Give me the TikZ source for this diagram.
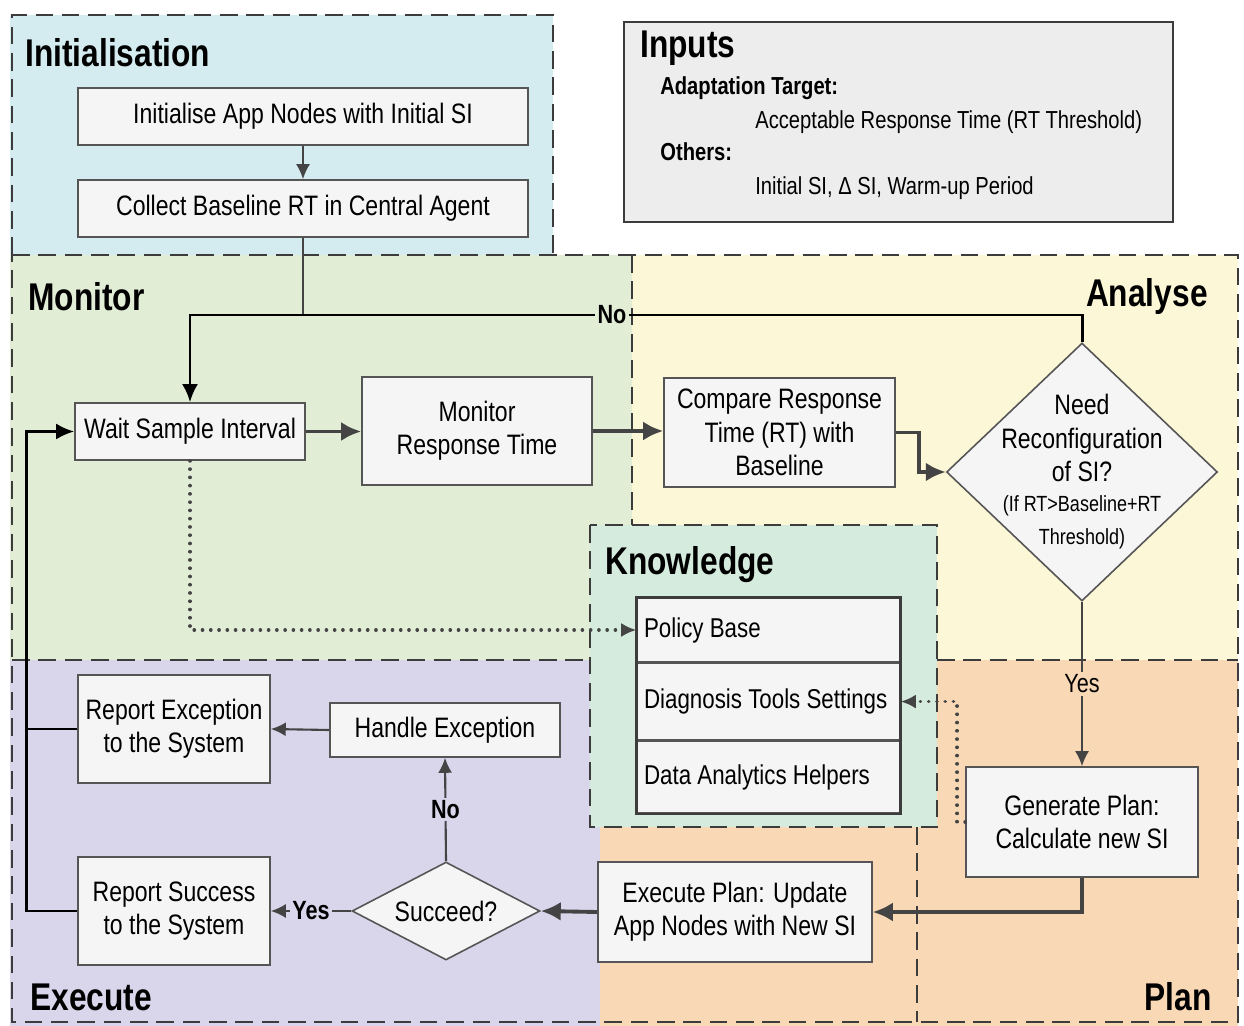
\documentclass[tikz,border=0pt]{standalone}
\usepackage{fontspec}
\setmainfont{Liberation Sans}[FakeStretch=0.82]
\usetikzlibrary{positioning,arrows.meta,calc,shapes.geometric}

\definecolor{initblue}{HTML}{D4EBF0}
\definecolor{mongreen}{HTML}{E1EDD5}
\definecolor{anayellow}{HTML}{FCF7D6}
\definecolor{knowgreen}{HTML}{D5EBDD}
\definecolor{exepurple}{HTML}{D9D6EB}
\definecolor{planorange}{HTML}{F9D8B6}
\definecolor{inputgray}{HTML}{EDEDED}
\definecolor{boxfill}{HTML}{F5F5F5}
\definecolor{boxline}{HTML}{555555}
\definecolor{dashline}{HTML}{3C3C3C}
\definecolor{arrowgray}{HTML}{444444}

\begin{document}
\begin{tikzpicture}[
    x=0.02cm, y=-0.02cm,
    box/.style={draw=boxline, line width=0.9pt, fill=boxfill, align=center, inner sep=2pt, font=\fontsize{16}{19}\selectfont},
    kbox/.style={box, align=flush left, text width=4.98cm, inner xsep=0.14cm, minimum width=5.26cm, font=\fontsize{15.5}{18}\selectfont},
    decision/.style={diamond, draw=boxline, line width=0.9pt, fill=boxfill, inner sep=0pt, font=\fontsize{16}{19}\selectfont},
    phase/.style={draw=dashline, line width=1.4pt, dash pattern=on 10pt off 5pt},
    title/.style={font=\fontsize{22}{24}\selectfont\bfseries, inner sep=0pt},
    inputtext/.style={anchor=west, inner sep=0pt, font=\fontsize{14}{16}\selectfont},
    arrow/.style={-{Latex[length=3mm, width=2.8mm]}, line width=1.2pt, draw=arrowgray},
    bigarrow/.style={-{Latex[length=4mm, width=3.8mm]}, line width=2.2pt, draw=arrowgray},
    loopline/.style={line width=1.7pt, draw=black},
    looparrow/.style={loopline, -{Latex[length=3.6mm, width=3.2mm]}},
    dotarrow/.style={-{Latex[length=3mm, width=2.8mm]}, line width=2pt, draw=arrowgray, dash pattern=on 0.1pt off 4.6pt, line cap=round},
    lbl/.style={font=\fontsize{15}{17}\selectfont\bfseries, inner sep=1.5pt}
]
\useasboundingbox (0,0) rectangle (1244,1026);

% phase backgrounds
\fill[initblue] (10,15) rectangle (553,255);
\fill[mongreen] (10,255) rectangle (632,660);
\fill[anayellow] (632,255) rectangle (1238,660);
\fill[exepurple] (10,660) rectangle (600,1026);
\fill[planorange] (600,660) rectangle (1238,1026);

% phase borders
\draw[phase] (12,255) -- (12,15) -- (553,15) -- (553,255);
\draw[phase] (12,255) -- (1238,255) -- (1238,1022) -- (12,1022) -- cycle;
\draw[phase] (632,255) -- (632,525);
\draw[phase] (12,660) -- (590,660);
\draw[phase] (937,660) -- (1238,660);
\draw[phase] (917,827) -- (917,1022);
\draw[phase, fill=knowgreen] (590,525) rectangle (937,827);

% phase titles
\node[title, anchor=west] (tinit) at (25,53) {Initialisation};
\node[title, anchor=west] (tmon) at (28,297) {Monitor};
\node[title, anchor=east] (tana) at (1208,297) {Analyse};
\node[title, anchor=west] (tknow) at (605,565) {Knowledge};
\node[title, anchor=west] (texe) at (30,997) {Execute};
\node[title, anchor=east] (tplan) at (1212,997) {Plan};

% inputs
\draw[line width=1.6pt, draw=dashline, fill=inputgray] (624,22) rectangle (1173,222);
\node[title, anchor=west] (tinputs) at (640,48) {Inputs};
\node[inputtext, font=\fontsize{14}{16}\selectfont\bfseries] (target) at (660,88) {Adaptation Target:};
\node[inputtext] (rtthr) at (755,122) {Acceptable Response Time (RT Threshold)};
\node[inputtext, font=\fontsize{14}{16}\selectfont\bfseries] (others) at (660,152) {Others:};
\node[inputtext] (otherlist) at (755,188) {Initial SI, Δ SI, Warm-up Period};

% process steps
\node[box, minimum width=9cm, minimum height=1.14cm] (initsi) at (303,116.5) {Initialise App Nodes with Initial SI};
\node[box, minimum width=9cm, minimum height=1.14cm] (baseline) at (303,208.5) {Collect Baseline RT in Central Agent};
\node[box, minimum width=4.6cm, minimum height=1.14cm] (wait) at (190,431.5) {Wait Sample Interval};
\node[box, minimum width=4.6cm, minimum height=2.16cm] (monrt) at (477,431) {Monitor\\Response Time};
\node[box, minimum width=4.62cm, minimum height=2.18cm] (cmprt) at (779.5,432.5) {Compare Response\\Time (RT) with\\Baseline};
\node[decision, minimum width=5.42cm, minimum height=5.16cm,
      label={[align=center, font=\fontsize{16}{19}\selectfont]center:Need\\Reconfiguration\\of SI?\\[-2pt]{\fontsize{12.5}{15}\selectfont(If RT>Baseline+RT}\\{\fontsize{12.5}{15}\selectfont Threshold)}}] (needsi) at (1082,472) {};
\node[box, minimum width=4.64cm, minimum height=2.2cm] (genplan) at (1082,822) {Generate Plan:\\Calculate new SI};
\node[box, minimum width=5.48cm, minimum height=2cm] (exeplan) at (735,912) {Execute Plan: Update\\App Nodes with New SI};
\node[decision, shape aspect=1.92, minimum width=3.76cm, minimum height=1.96cm] (succeed) at (446,911) {Succeed?};
\node[box, minimum width=4.6cm, minimum height=1.08cm] (handle) at (445,730) {Handle Exception};
\node[box, minimum width=3.84cm, minimum height=2.16cm] (repexc) at (174,729) {Report Exception\\to the System};
\node[box, minimum width=3.84cm, minimum height=2.16cm] (repsuc) at (174,911) {Report Success\\to the System};

% knowledge base
\node[kbox, minimum height=1.28cm] (policy) at (768.5,630) {Policy Base};
\node[kbox, minimum height=1.52cm, below=0pt of policy] (diagtools) {Diagnosis Tools Settings};
\node[kbox, minimum height=1.44cm, below=0pt of diagtools] (analytics) {Data Analytics Helpers};
\draw[line width=1.6pt, draw=dashline] (policy.north west) rectangle (analytics.south east);

% connectors
\coordinate (join) at (303,315);
\draw[arrow] (initsi) -- (baseline);
\draw[line width=1.2pt, draw=arrowgray] (baseline.south) -- (join);
\draw[looparrow] (needsi.north) |- (612,315) node[lbl, fill=mongreen] (nolbl) {No} -| (wait.north);
\draw[bigarrow] (wait.east) -- (wait.east -| monrt.west);
\draw[bigarrow] (monrt.east) -- (monrt.east -| cmprt.west);
\draw[bigarrow] (cmprt.east) -- ++(23,0) |- (needsi.west);
\draw[arrow] (needsi.south) -- node[lbl, font=\fontsize{15}{17}\selectfont, fill=planorange] (yeslbl) {Yes} (genplan.north);
\draw[bigarrow] (genplan.south) |- (exeplan.east);
\draw[bigarrow] (exeplan.west) -- (succeed.east);
\draw[arrow] (succeed.west) -- node[lbl, fill=exepurple] (sucyes) {Yes} (repsuc.east);
\draw[arrow] (succeed.north) -- node[lbl, fill=exepurple] (sucno) {No} (handle.south);
\draw[arrow] (handle.west) -- (repexc.east);
\draw[looparrow] (repsuc.west) -- ++(-51,0) |- (wait.west);
\draw[loopline] (repexc.west) -- ++(-51,0);
\draw[dotarrow] (wait.south) |- (policy.west);
\draw[dotarrow] (genplan.west) -- ++(-8,0) |- (diagtools.east);

\end{tikzpicture}
\end{document}
